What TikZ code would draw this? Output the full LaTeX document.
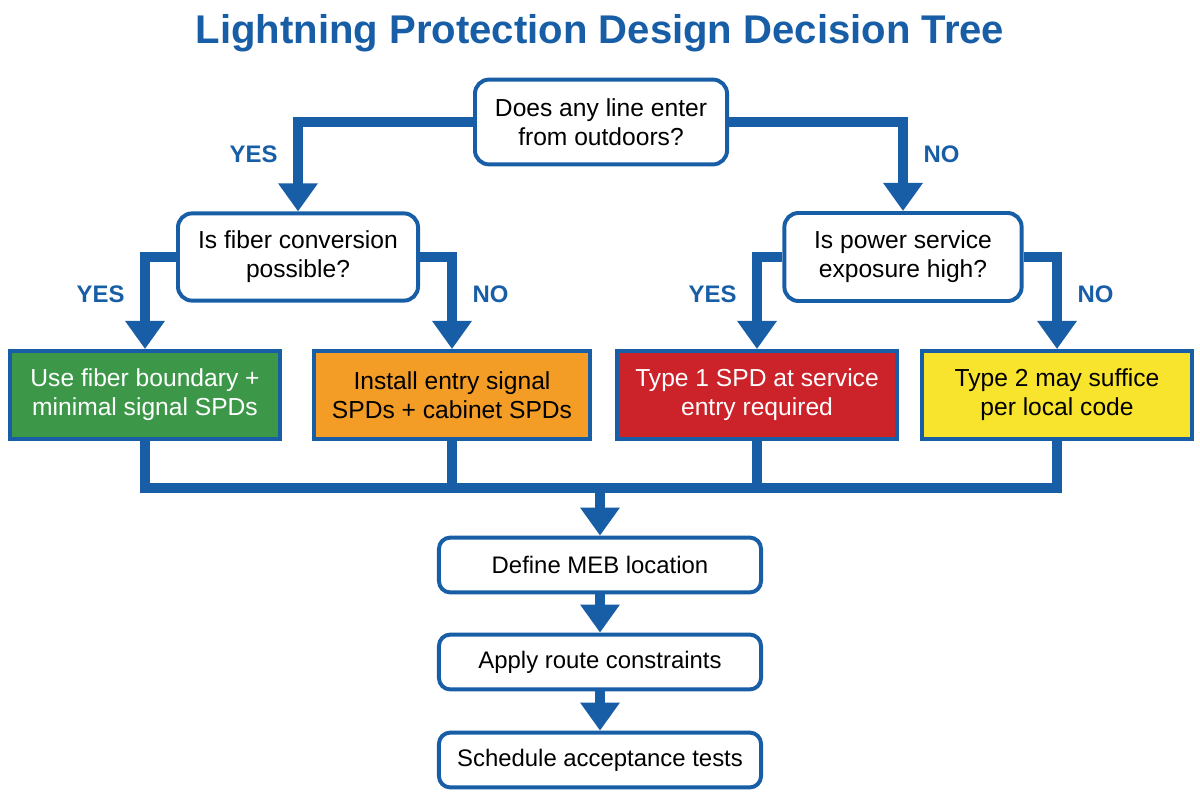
\documentclass[tikz,border=0pt]{standalone}
\usepackage{fontspec}
\setmainfont{Liberation Sans}
\usetikzlibrary{arrows.meta}

\definecolor{flowblue}{RGB}{24,94,166}
\definecolor{leafgreen}{RGB}{60,152,72}
\definecolor{leaforange}{RGB}{243,156,38}
\definecolor{leafred}{RGB}{204,34,41}
\definecolor{leafyellow}{RGB}{248,228,44}

\begin{document}
\begin{tikzpicture}[x=0.025cm, y=-0.025cm,
    link/.style={draw=flowblue, line width=6.5pt},
    flow/.style={link, -{Triangle[width=27pt, length=20pt]}},
    question/.style={draw=flowblue, line width=2.8pt, rounded corners=10pt, fill=white,
        align=center, font=\fontsize{17.5}{20.5}\selectfont},
    leaf/.style={draw=flowblue, line width=2.8pt, align=center, minimum width=6.75cm,
        minimum height=2.2cm, font=\fontsize{17.5}{20.5}\selectfont},
    stepbox/.style={draw=flowblue, line width=2.8pt, rounded corners=8pt, fill=white,
        minimum width=8.05cm, minimum height=1.37cm, font=\fontsize{17}{20}\selectfont},
    answer/.style={text=flowblue, font=\bfseries\fontsize{17}{20}\selectfont}]
    \useasboundingbox (0,0) rectangle (1200,800);

    % Title
    \node[text=flowblue, font=\bfseries\fontsize{28.5}{32}\selectfont] (title) at (600,33)
        {Lightning Protection Design Decision Tree};

    % Decisions
    \node[question, minimum width=6.3cm, minimum height=2.12cm] (outdoor) at (601,122)
        {Does any line enter\\from outdoors?};
    \node[question, minimum width=6.0cm, minimum height=2.18cm] (fiber) at (298,257)
        {Is fiber conversion\\possible?};
    \node[question, minimum width=5.93cm, minimum height=2.2cm] (power) at (903,257)
        {Is power service\\exposure high?};

    % Outcomes
    \node[leaf, fill=leafgreen, text=white] (usefiber) at (145,395)
        {Use fiber boundary +\\minimal signal SPDs};
    \node[leaf, fill=leaforange, minimum width=6.9cm] (entryspd) at (452,395)
        {Install entry signal\\SPDs + cabinet SPDs};
    \node[leaf, fill=leafred, text=white, minimum width=7cm] (typeone) at (757,395)
        {Type 1 SPD at service\\entry required};
    \node[leaf, fill=leafyellow] (typetwo) at (1057,395)
        {Type 2 may suffice\\per local code};

    % Common steps
    \node[stepbox] (meb) at (600,565) {Define MEB location};
    \node[stepbox] (route) at (600,662) {Apply route constraints};
    \node[stepbox] (tests) at (600,760) {Schedule acceptance tests};

    % Branches
    \draw[flow] (outdoor.west) -| node[answer, pos=0.68, left=8pt] {YES} (fiber.north);
    \draw[flow] (outdoor.east) -| node[answer, pos=0.68, right=8pt] {NO} (power.north);
    \draw[flow] (fiber.west) -| node[answer, pos=0.7, left=8pt] {YES} (usefiber.north);
    \draw[flow] (fiber.east) -| node[answer, pos=0.7, right=8pt] {NO} (entryspd.north);
    \draw[flow] (power.west) -| node[answer, pos=0.7, left=8pt] {YES} (typeone.north);
    \draw[flow] (power.east) -| node[answer, pos=0.7, right=8pt] {NO} (typetwo.north);

    % Merge bus
    \coordinate (merge) at (600,488);
    \draw[link] (usefiber.south) |- (merge) -| (typetwo.south);
    \draw[link] (entryspd.south) |- (merge);
    \draw[link] (typeone.south) |- (merge);
    \draw[flow] (merge) -- (meb.north);
    \draw[flow] (meb) -- (route);
    \draw[flow] (route) -- (tests);
\end{tikzpicture}
\end{document}
